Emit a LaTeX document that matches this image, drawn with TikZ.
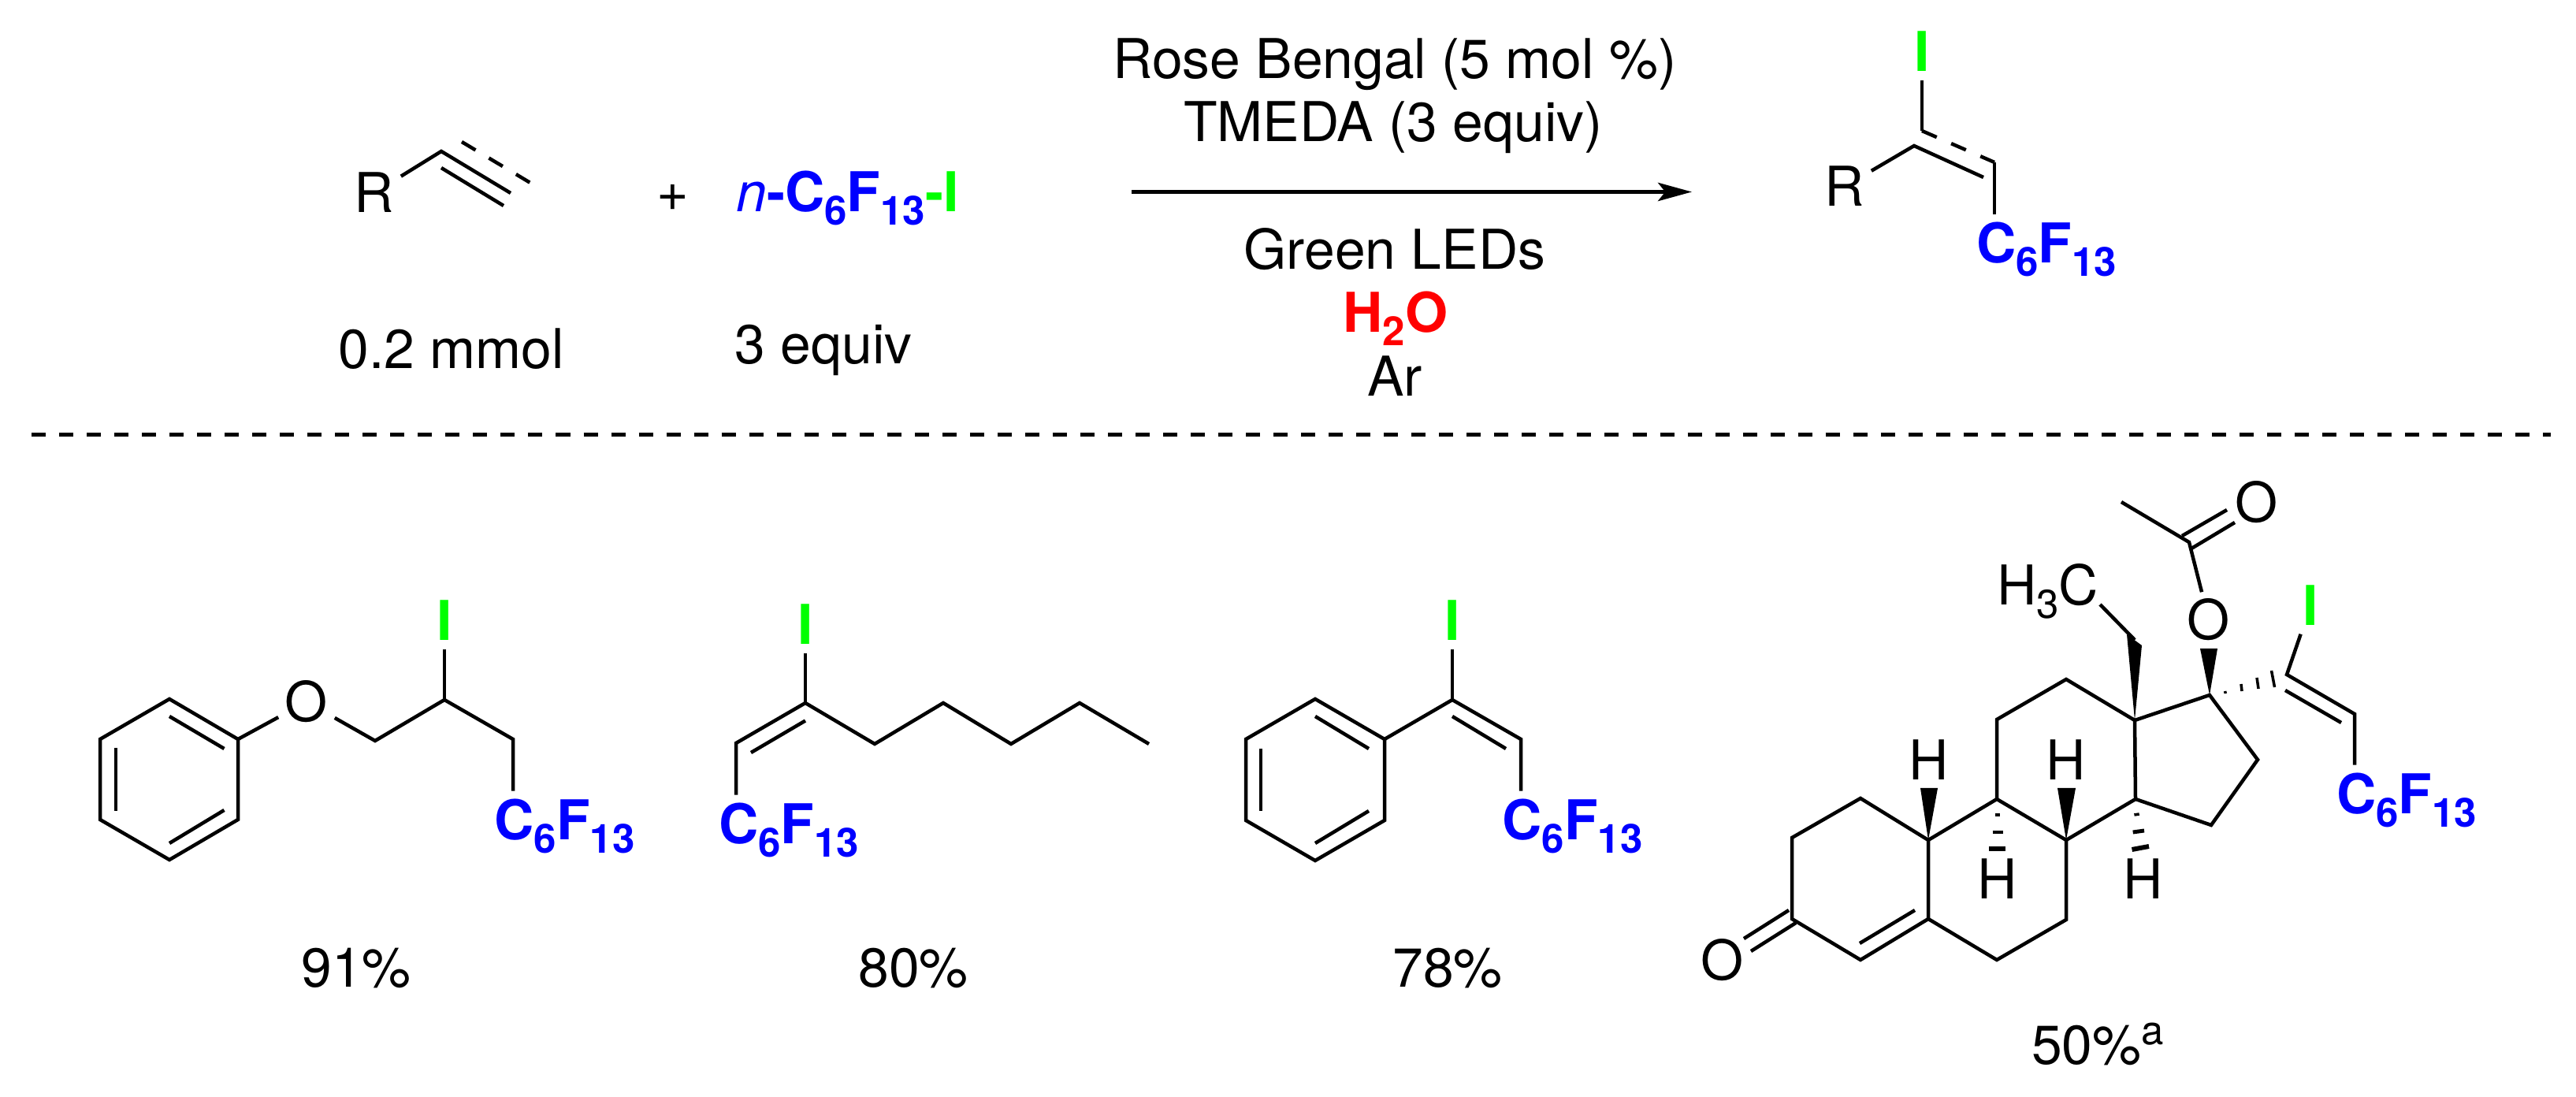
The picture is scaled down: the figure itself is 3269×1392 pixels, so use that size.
\documentclass[tikz,border=0pt]{standalone}
\usepackage{fontspec}
\setmainfont{TeX Gyre Heros}
\usetikzlibrary{arrows.meta}
\newcommand{\subdigit}[1]{\raisebox{-4.8pt}{\fontsize{14.5}{16}\selectfont #1}}
\newcommand{\supletter}[1]{\raisebox{7.1pt}{\fontsize{14.5}{16}\selectfont #1}}
\newcommand{\perfluoro}{\bfseries C\subdigit{6}F\subdigit{13}}

\begin{document}
\begin{tikzpicture}[
x=0.01cm, y=-0.01cm,
every node/.style={font=\fontsize{19.8}{24}\selectfont, anchor=base},
textnode/.style={inner sep=0pt},
atomnode/.style={inner sep=0.08cm},
iodine/.style={inner sep=0.1cm, text=green, font=\fontsize{19.8}{24}\selectfont\bfseries},
chainnode/.style={inner sep=0.1cm, text=blue},
bond/.style={line width=1.28pt, line join=miter},
wedge/.style={fill=black},
hash/.style={line width=1pt},
]
\useasboundingbox (0,0) rectangle (3269,1392);

%Nodes
\node[atomnode] (rsub) at (475,270) {R};
\node[textnode] (plus) at (854,268) {+};
\node[textnode, text=blue] (reagent) at (1075.5,269) {\textit{n}\bfseries-C\subdigit{6}F\subdigit{13}\textcolor{green}{-I}};
\node[textnode] (mmol) at (573,468) {0.2 mmol};
\node[textnode] (equiv) at (1045,462) {3 equiv};
\node[textnode] (rose) at (1770,100) {Rose Bengal (5 mol \%)};
\node[textnode] (tmeda) at (1768,180) {TMEDA (3 equiv)};
\node[textnode] (leds) at (1770,342) {Green LEDs};
\node[textnode, text=red] (water) at (1771,422) {\bfseries H\subdigit{2}O};
\node[textnode] (argon) at (1770,503) {Ar};
\node[atomnode] (rprod) at (2341,262) {R};
\node[iodine] (iprod) at (2439,91) {I};
\node[chainnode] (cfprod) at (2597,334) {\perfluoro};

\node[atomnode] (oa) at (389,916) {O};
\node[iodine] (ia) at (564,813) {I};
\node[chainnode] (cfa) at (716.5,1066) {\perfluoro};
\node[textnode] (yielda) at (452,1252) {91\%};

\node[iodine] (ib) at (1022,818) {I};
\node[chainnode] (cfb) at (1001,1071) {\perfluoro};
\node[textnode] (yieldb) at (1159,1252) {80\%};

\node[iodine] (ic) at (1843,813) {I};
\node[chainnode] (cfc) at (1995.5,1066) {\perfluoro};
\node[textnode] (yieldc) at (1837,1252) {78\%};

\node[textnode] (ethyl) at (2598.5,768) {H\subdigit{3}C};
\node[atomnode] (oacyl) at (2864,663) {O};
\node[atomnode] (oester) at (2803,812) {O};
\node[iodine] (id) at (2932,794) {I};
\node[chainnode] (cfd) at (3054,1033) {\perfluoro};
\node[atomnode] (oketo) at (2186,1244) {O};
\node[textnode] (ha) at (2447.5,990) {H};
\node[textnode] (hb) at (2622,990) {H};
\node[textnode] (hc) at (2535,1141) {H};
\node[textnode] (hd) at (2720,1141) {H};
\node[textnode] (yieldd) at (2662,1350) {50\%\supletter{a}};

%Atoms
\coordinate (start) at (1436,243.5);
\coordinate (stop) at (2147,243.5);
\coordinate (rulel) at (40,552);
\coordinate (ruler) at (3237,552);

\coordinate (tv) at (560,192);
\coordinate (te) at (648,245);
\coordinate (tia) at (560,213);
\coordinate (tib) at (639,261);
\coordinate (tda) at (586,180);
\coordinate (tdb) at (673,232);

\coordinate (pv) at (2429,185);
\coordinate (pe) at (2517,225);
\coordinate (pda) at (2439,166);
\coordinate (pdb) at (2531,206);

\coordinate (a1) at (215,887);
\coordinate (a2) at (302,938);
\coordinate (a3) at (302,1040);
\coordinate (a4) at (215,1091);
\coordinate (a5) at (127,1040);
\coordinate (a6) at (127,938);
\coordinate (a7) at (476,940);
\coordinate (a8) at (564,888);
\coordinate (a9) at (651,938);

\coordinate (b1) at (1022,892);
\coordinate (b2) at (934,943);
\coordinate (b3) at (1110,944);
\coordinate (b4) at (1197,892);
\coordinate (b5) at (1283,944);
\coordinate (b6) at (1370,892);
\coordinate (b7) at (1458,944);

\coordinate (c1) at (1669,887);
\coordinate (c2) at (1757,938);
\coordinate (c3) at (1757,1041);
\coordinate (c4) at (1669,1092);
\coordinate (c5) at (1581,1041);
\coordinate (c6) at (1581,938);
\coordinate (c7) at (1843,888);
\coordinate (c8) at (1930,938);

\coordinate (d1) at (2274,1166);
\coordinate (d2) at (2274,1063);
\coordinate (d3) at (2361,1013);
\coordinate (d4) at (2447,1066);
\coordinate (d5) at (2447,1166);
\coordinate (d6) at (2361,1218);
\coordinate (d7) at (2534,1218);
\coordinate (d8) at (2622,1167);
\coordinate (d9) at (2622,1066);
\coordinate (d10) at (2534,1014);
\coordinate (d11) at (2534,913);
\coordinate (d12) at (2622,862);
\coordinate (d13) at (2709,914);
\coordinate (d14) at (2710,1014);
\coordinate (d15) at (2806,1047);
\coordinate (d16) at (2865,964);
\coordinate (d17) at (2804,882);
\coordinate (d18) at (2902,856);
\coordinate (d19) at (2988,906);
\coordinate (d20) at (2778,688);
\coordinate (d21) at (2692,637);
\coordinate (d22) at (2709,812);
\coordinate (d23) at (2665,767);

%Lines
\draw[-{Stealth[length=12.2pt, width=6.6pt, inset=2.6pt]}, line width=1.45pt] (start) -- (stop);
\draw[line width=1.42pt, dash pattern=on 5.12pt off 4.84pt] (rulel) -- (ruler);

%Alkyne and product
\draw[bond] (rsub) -- (tv) -- (te);
\draw[bond] (tia) -- (tib);
\draw[bond, dash pattern=on 5.8pt off 5.6pt] (tda) -- (tdb);
\draw[bond] (rprod) -- (pv) -- (pe);
\draw[bond] (iprod) -- (pda);
\draw[bond, dash pattern=on 5.8pt off 5.7pt] (pda) -- (pdb);
\draw[bond] (pdb) -- (pdb |- cfprod.north);

%Ether
\draw[bond] (a1) -- (a2) -- (a3) -- (a4) -- (a5) -- (a6) -- cycle;
\draw[bond] (215,909) -- (284.5,950);
\draw[bond] (147,949) -- (147,1029);
\draw[bond] (284.5,1028) -- (215,1070);
\draw[bond] (a2) -- (oa);
\draw[bond] (oa) -- (a7) -- (a8) -- (a9) -- (a9 |- cfa.north);
\draw[bond] (ia) -- (a8);

%Alkenyl chain
\draw[bond] (ib) -- (b1);
\draw[bond] (cfb.north -| b2) -- (b2) -- (b1) -- (b3) -- (b4) -- (b5) -- (b6) -- (b7);
\draw[bond] (1022,914.5) -- (953,955);

%Styrene
\draw[bond] (c1) -- (c2) -- (c3) -- (c4) -- (c5) -- (c6) -- cycle;
\draw[bond] (1669,909) -- (1737,950);
\draw[bond] (1600,950) -- (1600,1029);
\draw[bond] (1737,1029) -- (1669,1070);
\draw[bond] (c2) -- (c7) -- (c8) -- (c8 |- cfc.north);
\draw[bond] (ic) -- (c7);
\draw[bond] (1843,909) -- (1911,950);

%Steroid
\draw[bond] (d1) -- (d2) -- (d3) -- (d4) -- (d5) -- (d6) -- cycle;
\draw[bond] (d4) -- (d10) -- (d9) -- (d8) -- (d7) -- (d5);
\draw[bond] (d10) -- (d11) -- (d12) -- (d13) -- (d14) -- (d9);
\draw[bond] (d14) -- (d15) -- (d16) -- (d17) -- (d13);
\draw[bond] (2360,1197) -- (2430,1155);
\draw[bond] (2270,1155) -- (2213,1191);
\draw[bond] (2279,1171) -- (2222,1207);
\draw[bond] (d23) -- (d22);
\draw[bond] (d21) -- (d20) -- (oester);
\draw[bond] (2769,680) -- (2826,647);
\draw[bond] (2781,696) -- (2836,663);
\draw[bond] (id) -- (d18) -- (d19) -- (d19 |- cfd.north);
\draw[bond] (2900,876) -- (2971,917);
\fill[wedge] (d13) -- (2699,805) -- (2718,819) -- cycle;
\fill[wedge] (d17) -- (2792,823) -- (2814,823) -- cycle;
\fill[wedge] (d4) -- (2437,1000) -- (2459,1000) -- cycle;
\fill[wedge] (d9) -- (2611,1000) -- (2634,1000) -- cycle;
\draw[hash] (2823.6,877) -- (2824.3,880);
\draw[hash] (2844,868) -- (2845,877);
\draw[hash] (2864,860) -- (2866,874);
\draw[hash] (2882.5,851) -- (2886.5,872);
\draw[hash] (2531.6,1034) -- (2538,1034);
\draw[hash, line width=1.4pt] (2528.7,1056) -- (2542,1056);
\draw[hash, line width=1.7pt] (2524,1077) -- (2545,1077);
\draw[hash] (2708.4,1034) -- (2714.7,1033);
\draw[hash, line width=1.4pt] (2706.7,1056) -- (2721,1054);
\draw[hash, line width=1.7pt] (2705.5,1078) -- (2727,1074);
\end{tikzpicture}
\end{document}
